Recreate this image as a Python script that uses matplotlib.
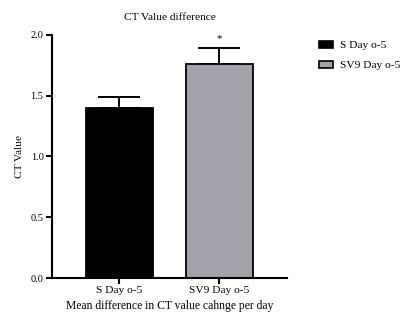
import matplotlib
matplotlib.use("Agg")
import matplotlib.pyplot as plt
from matplotlib.patches import Patch

plt.rcParams['font.family'] = ['Liberation Serif', 'DejaVu Serif']

groups = ["S Day o-5", "SV9 Day o-5"]
means = [1.40, 1.76]
sems = [0.09, 0.13]
colors = ["#000000", "#a2a2aa"]
yticks = [0.0, 0.5, 1.0, 1.5, 2.0]
ytick_labels = ["0.0", "0.5", "1.0", "1.5", "2.0"]

fig = plt.figure(figsize=(4.02, 3.20), dpi=100)
ax = fig.add_axes([0.129, 0.131, 0.585, 0.76])

x = list(range(len(groups)))
ax.bar(x, means, width=0.67, color=colors, edgecolor="black", linewidth=1.3, zorder=2)
ax.errorbar(x, means, yerr=[[0] * len(sems), sems], fmt="none", ecolor="black",
            elinewidth=1.4, capsize=15, capthick=1.4, zorder=1)
ax.text(x[1], means[1] + sems[1] + 0.04, "*", ha="center", va="bottom", fontsize=8)

ax.set_xlim(-0.677, 1.677)
ax.set_ylim(0, 2.0)
ax.set_yticks(yticks)
ax.set_yticklabels(ytick_labels, fontsize=7.5)
ax.set_xticks(x)
ax.set_xticklabels(groups, fontsize=8.2)
for s in ["top", "right"]:
    ax.spines[s].set_visible(False)
for s in ["left", "bottom"]:
    ax.spines[s].set_linewidth(1.5)
ax.tick_params(axis="both", direction="out", length=4, width=1.5, pad=2)

ax.set_title("CT Value difference", fontsize=8.2, pad=11)
ax.set_ylabel("CT Value", fontsize=8.2, labelpad=5)
ax.set_xlabel("Mean difference in CT value cahnge per day", fontsize=8.4, labelpad=3)

handles = [Patch(facecolor=c, edgecolor="black", linewidth=1.2) for c in colors]
fig.legend(handles, groups, loc="upper left", bbox_to_anchor=(0.768, 0.905),
           frameon=False, fontsize=8.2, handlelength=1.25, handleheight=0.6,
           handletextpad=0.6, labelspacing=0.9)

fig.savefig("out.png", dpi=100)
